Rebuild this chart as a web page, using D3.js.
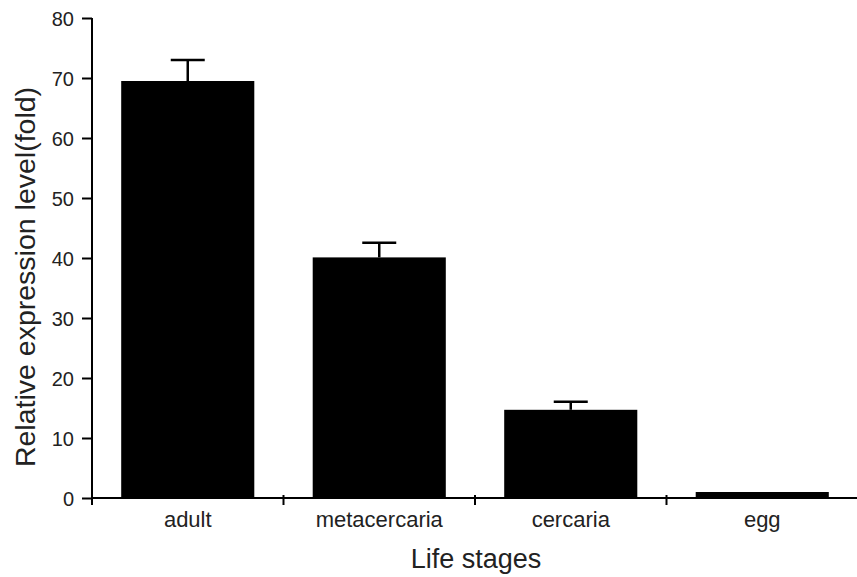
<!DOCTYPE html>
<html>
<head>
<meta charset="utf-8">
<script src="https://cdn.jsdelivr.net/npm/d3@7"></script>
<style>
  html, body { margin: 0; padding: 0; background: #fff; }
  svg { display: block; font-family: Arial, "Liberation Sans", sans-serif; }
</style>
</head>
<body>
<svg id="chart" width="857" height="577"></svg>
<script>
const categories = ["adult", "metacercaria", "cercaria", "egg"];
const values = [69.5, 40.1, 14.7, 1.0];
const errors = [3.5, 2.45, 1.35, 0];
const yTicks = [0, 10, 20, 30, 40, 50, 60, 70, 80];
const xTitle = "Life stages";
const yTitle = "Relative expression level(fold)";

const svg = d3.select("#chart");
const plotLeft = 92, plotRight = 858, plotTop = 18, plotBottom = 498;
const textColor = "#222";

const y = d3.scaleLinear().domain([0, 80]).range([plotBottom, plotTop]);
const x = d3.scaleBand().domain(categories).range([plotLeft, plotRight])
  .paddingInner(0.305).paddingOuter(0.1525);

// Bars
svg.append("g").selectAll("rect").data(categories).join("rect")
  .attr("x", d => x(d))
  .attr("width", x.bandwidth())
  .attr("y", (d, i) => y(values[i]))
  .attr("height", (d, i) => y(0) - y(values[i]))
  .attr("fill", "#000");

// Error bars
const eb = svg.append("g").attr("stroke", "#000").attr("stroke-width", 2.5);
categories.forEach((c, i) => {
  if (errors[i] <= 0) return;
  const cx = x(c) + x.bandwidth() / 2;
  eb.append("line").attr("x1", cx).attr("x2", cx)
    .attr("y1", y(values[i])).attr("y2", y(values[i] + errors[i]));
  eb.append("line").attr("x1", cx - 17).attr("x2", cx + 17)
    .attr("y1", y(values[i] + errors[i])).attr("y2", y(values[i] + errors[i]));
});

// Y axis
const yAxis = d3.axisLeft(y).tickValues(yTicks).tickSize(10).tickPadding(8);
const gy = svg.append("g").attr("transform", `translate(${plotLeft},0)`).call(yAxis);
gy.select(".domain").attr("stroke", "#000").attr("stroke-width", 2)
  .attr("d", `M0,${plotBottom}V${plotTop}`);
gy.selectAll(".tick line").attr("stroke", "#000").attr("stroke-width", 2);
gy.selectAll(".tick text").attr("fill", textColor)
  .style("font-size", "20px").attr("dy", "0.36em");

// X axis line
svg.append("line").attr("x1", plotLeft).attr("x2", 857)
  .attr("y1", plotBottom).attr("y2", plotBottom)
  .attr("stroke", "#000").attr("stroke-width", 2);

// X ticks at band boundaries
const step = x.step();
const bounds = categories.map(c => x(c) - step * x.paddingInner() / 2);
bounds.push(x(categories[categories.length - 1]) + x.bandwidth() + step * x.paddingInner() / 2);
svg.append("g").selectAll("line").data(bounds).join("line")
  .attr("x1", d => d).attr("x2", d => d)
  .attr("y1", plotBottom - 3).attr("y2", plotBottom + 7)
  .attr("stroke", "#000").attr("stroke-width", 2);

// Category labels
svg.append("g").selectAll("text").data(categories).join("text")
  .attr("x", d => x(d) + x.bandwidth() / 2)
  .attr("y", 527)
  .attr("text-anchor", "middle")
  .attr("fill", textColor)
  .style("font-size", "22px")
  .text(d => d);

// Axis titles
svg.append("text").attr("x", 476).attr("y", 568)
  .attr("text-anchor", "middle").attr("fill", textColor)
  .style("font-size", "27px").text(xTitle);

svg.append("text")
  .attr("transform", "translate(35,277) rotate(-90)")
  .attr("text-anchor", "middle").attr("fill", textColor)
  .style("font-size", "28.5px").text(yTitle);
</script>
</body>
</html>
